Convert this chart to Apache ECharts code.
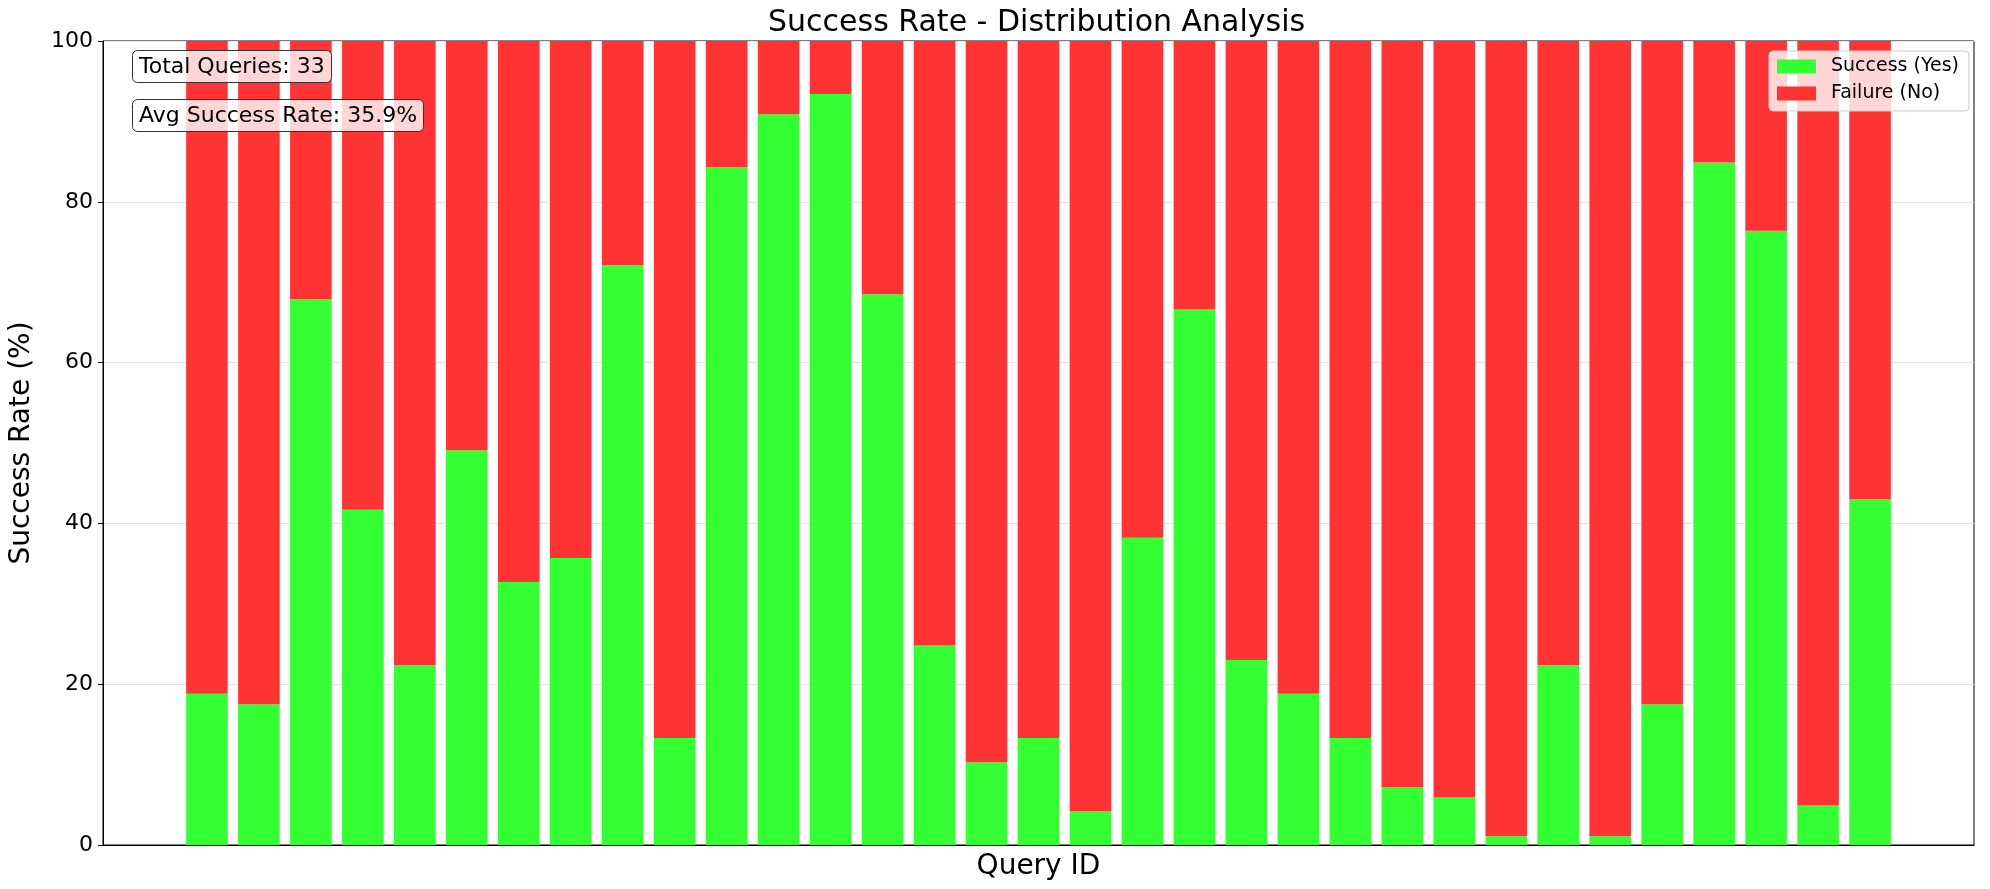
<!DOCTYPE html>
<html lang="en" style="height: 100%">
<head>
  <meta charset="UTF-8" />
  <title>Success Rate - Distribution Analysis</title>
  <script src="https://cdn.jsdelivr.net/npm/echarts@6/dist/echarts.min.js"></script>
  <style>
    html, body {
      height: 100%;
      margin: 0;
      background-color: #fff;
    }
    #chart {
      width: 1990px;
      height: 889px;
    }
  </style>
</head>
<body>
  <div id="chart"></div>

  <script>
    // success / failure percentages per query
    const successRate = [
      18.8, 17.5, 67.9, 41.7, 22.4, 49.1, 32.7, 35.7, 72.1, 13.3, 84.3,
      90.9, 93.4, 68.5, 24.8, 10.3, 13.3, 4.2, 38.2, 66.6, 23.0, 18.8,
      13.3, 7.2, 5.9, 1.1, 22.4, 1.1, 17.5, 84.9, 76.4, 4.9, 43.0
    ];
    const failureRate = [
      81.2, 82.5, 32.1, 58.3, 77.6, 50.9, 67.3, 64.3, 27.9, 86.7, 15.7,
      9.1, 6.6, 31.5, 75.2, 89.7, 86.7, 95.8, 61.8, 33.4, 77.0, 81.2,
      86.7, 92.8, 94.1, 98.9, 77.6, 98.9, 82.5, 15.1, 23.6, 95.1, 57.0
    ];
    const queryIds = successRate.map((_, i) => 'Q' + (i + 1));
    const yTicks = [0, 20, 40, 60, 80, 100];

    const font = 'DejaVu Sans';
    const green = '#33ff33';
    const red = '#ff3333';

    const total = successRate.length;
    const avg = successRate.reduce((a, b) => a + b, 0) / total;

    // matplotlib leaves two empty slots on each side of the bars (xlim -2..34)
    const pad = ['', ''];
    const categories = pad.concat(queryIds, pad);
    const padData = arr => [null, null].concat(arr, [null, null]);

    const chart = echarts.init(document.getElementById('chart'));

    const boxStyle = {
      backgroundColor: 'rgba(255,255,255,0.8)',
      borderColor: '#333',
      borderWidth: 1,
      borderRadius: 5,
      padding: [6, 7, 5, 7],
      textStyle: { fontFamily: font, fontSize: 22, fontWeight: 'normal', color: '#000' }
    };

    chart.setOption({
      backgroundColor: '#fff',
      animation: false,
      title: [
        {
          text: 'Success Rate - Distribution Analysis',
          left: 768,
          top: 8,
          padding: 0,
          textStyle: { fontFamily: font, fontSize: 30, fontWeight: 'normal', color: '#000' }
        },
        Object.assign({ text: 'Total Queries: ' + total, left: 132, top: 50 }, boxStyle),
        Object.assign({ text: 'Avg Success Rate: ' + avg.toFixed(1) + '%', left: 132, top: 99 }, boxStyle)
      ],
      legend: {
        orient: 'vertical',
        left: 1769,
        top: 51,
        itemWidth: 39,
        itemHeight: 14,
        itemGap: 8,
        padding: [6, 10, 8, 8],
        backgroundColor: 'rgba(255,255,255,0.8)',
        borderColor: '#cccccc',
        borderWidth: 1,
        borderRadius: 4,
        icon: 'rect',
        textStyle: { fontFamily: font, fontSize: 19, color: '#000', padding: [0, 0, 0, 10] },
        data: ['Success (Yes)', 'Failure (No)']
      },
      grid: {
        left: 102,
        right: 16,
        top: 41,
        bottom: 44,
        show: true,
        borderColor: '#000',
        borderWidth: 1,
        containLabel: false
      },
      xAxis: {
        type: 'category',
        data: categories,
        boundaryGap: false,
        name: 'Query ID',
        nameLocation: 'middle',
        nameGap: 8,
        nameTextStyle: { fontFamily: font, fontSize: 28, color: '#000', verticalAlign: 'top' },
        axisLine: { show: true, lineStyle: { color: '#000', width: 1 } },
        axisTick: { show: false },
        axisLabel: { show: false },
        splitLine: { show: false }
      },
      yAxis: {
        type: 'value',
        min: 0,
        max: 100,
        interval: 20,
        name: 'Success Rate (%)',
        nameLocation: 'middle',
        nameRotate: 90,
        nameGap: 67,
        nameTextStyle: { fontFamily: font, fontSize: 28, color: '#000' },
        axisLine: { show: true, onZero: false, lineStyle: { color: '#000', width: 1 } },
        axisTick: { show: true, inside: false, length: 5, lineStyle: { color: '#000' } },
        axisLabel: {
          fontFamily: font,
          fontSize: 22,
          color: '#000',
          margin: 10,
          formatter: v => (yTicks.includes(v) ? String(v) : '')
        },
        splitLine: { show: true, lineStyle: { color: '#e4e4e4', width: 1 } }
      },
      series: [
        {
          name: 'Success (Yes)',
          type: 'bar',
          stack: 'rate',
          barWidth: '80%',
          itemStyle: { color: green },
          data: padData(successRate)
        },
        {
          name: 'Failure (No)',
          type: 'bar',
          stack: 'rate',
          barWidth: '80%',
          itemStyle: { color: red },
          data: padData(failureRate)
        }
      ]
    });
  </script>
</body>
</html>
